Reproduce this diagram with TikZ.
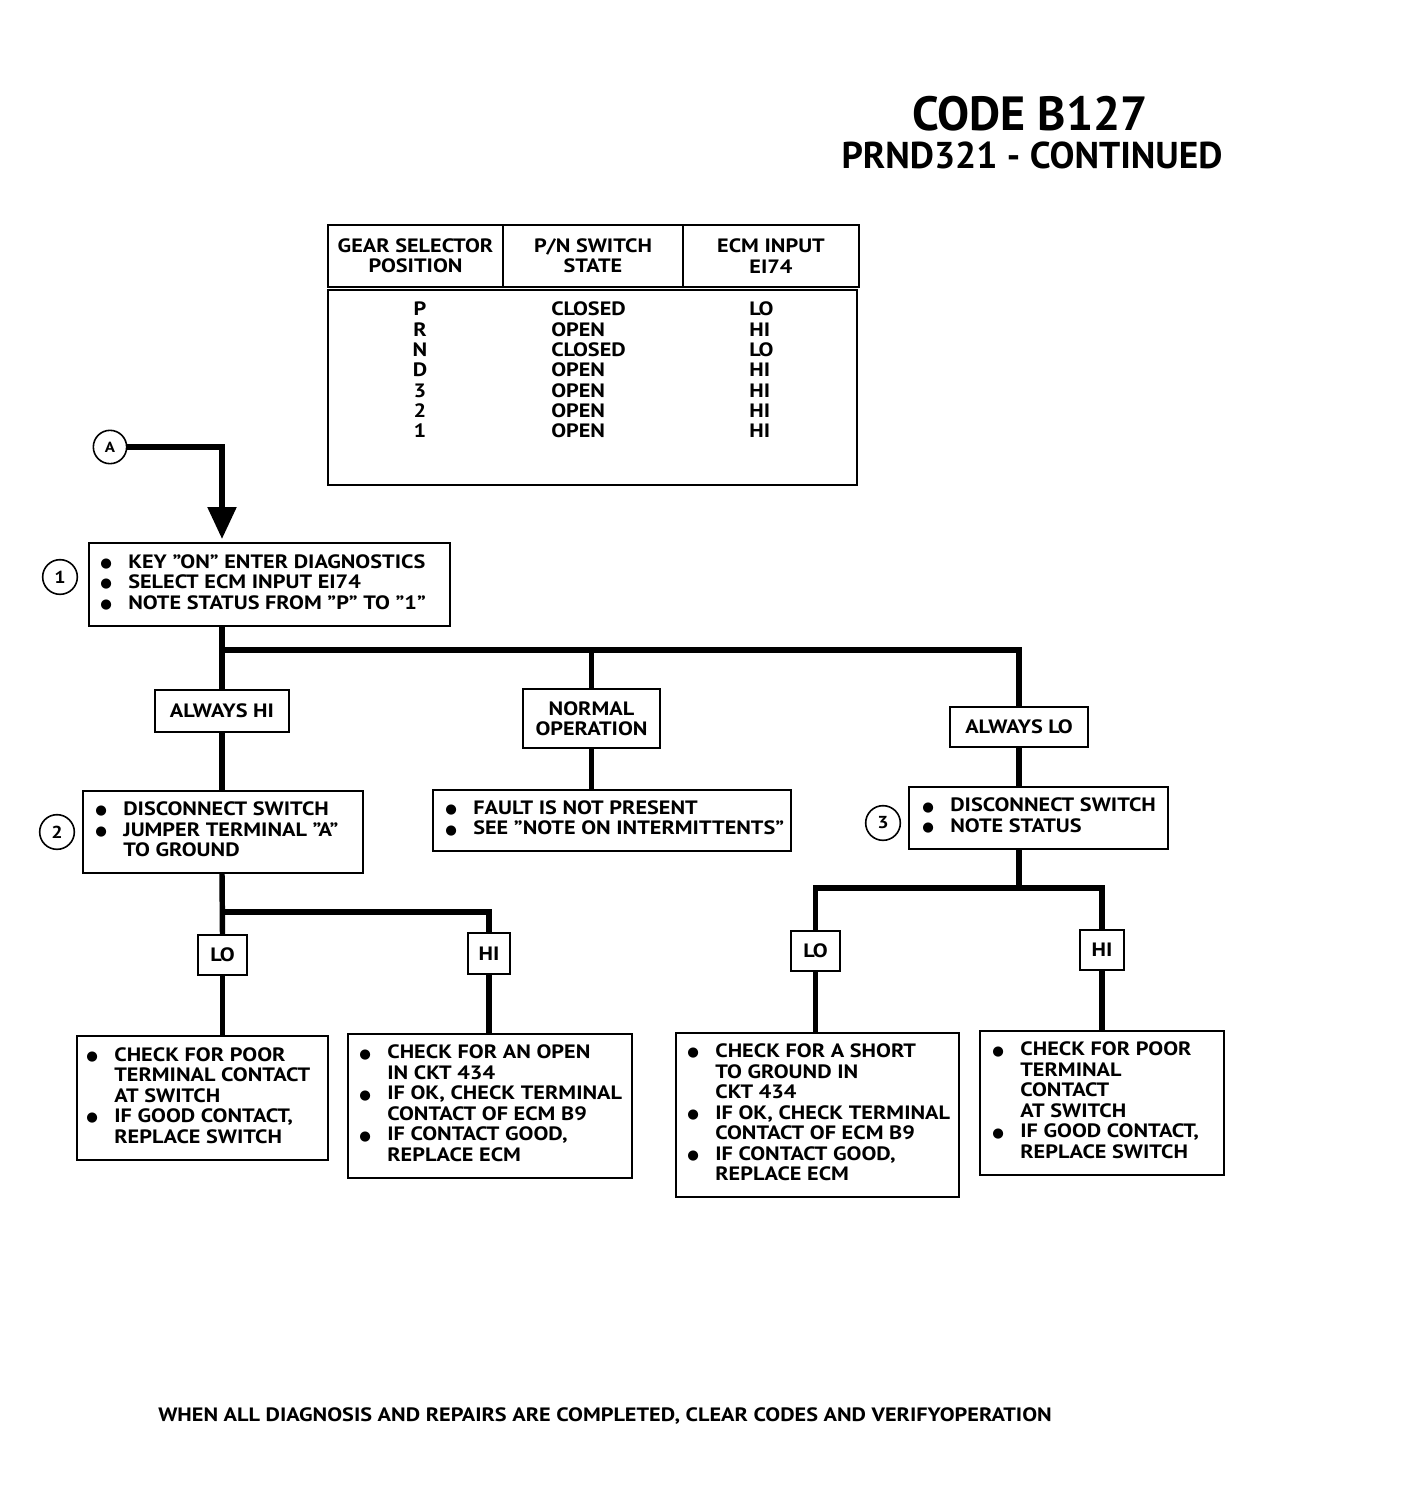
\documentclass[tikz,border=0pt]{standalone}
\usepackage{fontspec}
\setmainfont{PT Sans}[FakeStretch=1.15]
\newfontfamily\tfont{PT Sans}
\newfontfamily\symf{DejaVu Sans}
\usetikzlibrary{arrows.meta,fit,calc}
\newcommand\bul{\makebox[21pt][l]{{\symf\fontsize{10}{10}\selectfont\raisebox{0.5pt}{●}}}}
\newcommand\blist[1]{\begin{tabular}{@{}l@{}l@{}}#1\end{tabular}}
\begin{document}
\begin{tikzpicture}[x=0.75pt,y=-0.75pt,
  bx/.style={draw,line width=1.4pt,inner sep=0pt},
  conn/.style={line width=4.1pt,line join=miter},
  txt/.style={inner sep=0pt,anchor=west,font=\bfseries\fontsize{14.5}{15.4}\selectfont},
  lbl/.style={inner sep=0pt,align=center,font=\bfseries\fontsize{14.5}{15.2}\selectfont},
  circ/.style={draw,circle,line width=1.2pt,minimum size=26pt,inner sep=0pt,font=\bfseries\fontsize{13}{13}\selectfont},
  tcol/.style={inner sep=0pt,font=\bfseries\fontsize{14.5}{15.25}\selectfont}]
\fill[white] (0,0) rectangle (1400,1502);
\useasboundingbox (0,0) rectangle (1400,1502);

% title
\node[inner sep=0pt,font=\tfont\bfseries\fontsize{36}{40}\selectfont] (title) at (1030,114) {CODE B127};
\node[inner sep=0pt,font=\tfont\bfseries\fontsize{28}{32}\selectfont] (sub) at (1032,155) {PRND321 - CONTINUED};

% table
\node[bx,fit={(328,225) (503,287)}] (h1) {};
\node[bx,fit={(503,225) (683,287)}] (h2) {};
\node[bx,fit={(683,225) (859,287)}] (h3) {};
\node[lbl] (h1t) at (h1.center) {GEAR SELECTOR\\POSITION};
\node[lbl] (h2t) at (h2.center) {P/N SWITCH\\STATE};
\node[lbl] (h3t) at (h3.center) {ECM INPUT\\EI74};
\node[bx,fit={(328,290) (857,485)}] (tb) {};
\node[tcol,align=center] (c1) at (420,370) {P\\R\\N\\D\\3\\2\\1};
\node[tcol,align=left,anchor=west] (c2) at (551,370) {CLOSED\\OPEN\\CLOSED\\OPEN\\OPEN\\OPEN\\OPEN};
\node[tcol,align=left,anchor=west] (c3) at (749,370) {LO\\HI\\LO\\HI\\HI\\HI\\HI};

% entry
\node[circ,minimum size=25pt,font=\bfseries\fontsize{11}{11}\selectfont] (cA) at (110,447) {A};
\coordinate (atip) at (222,539);

% step 1
\node[bx,fit={(89,543) (450,626)}] (b1) {};
\node[txt] (b1t) at ($(b1.west)+(12,0)$) {\blist{\bul & KEY "ON" ENTER DIAGNOSTICS\\ \bul & SELECT ECM INPUT EI74\\ \bul & NOTE STATUS FROM "P" TO "1"}};
\node[circ] (n1) at (60,577) {1};

% result labels
\node[bx,fit={(155,690) (289,732)}] (hi) {};
\node[lbl] (hit) at (hi.center) {ALWAYS HI};
\node[bx,fit={(523,689) (660,748)}] (nop) {};
\node[lbl] (nopt) at (nop.center) {NORMAL\\OPERATION};
\node[bx,fit={(950,707) (1088,747)}] (alo) {};
\node[lbl] (alot) at (alo.center) {ALWAYS LO};

% step 2
\node[bx,fit={(83,791) (363,873)}] (b2) {};
\node[txt] (b2t) at ($(b2.west)+(13,0)$) {\blist{\bul & DISCONNECT SWITCH\\ \bul & JUMPER TERMINAL "A"\\ & TO GROUND}};
\node[circ] (n2) at (57,832) {2};

\node[bx,fit={(433,790) (791,851)}] (bn) {};
\node[txt] (bnt) at ($(bn.west)+(13,0)$) {\blist{\bul & FAULT IS NOT PRESENT\\ \bul & SEE "NOTE ON INTERMITTENTS"}};

% step 3
\node[bx,fit={(909,787) (1168,849)}] (b3) {};
\node[txt] (b3t) at ($(b3.west)+(14,0)$) {\blist{\bul & DISCONNECT SWITCH\\ \bul & NOTE STATUS}};
\node[circ] (n3) at (883,823) {3};

% LO/HI labels
\node[bx,fit={(198,935) (247,975)}] (lo1) {};
\node[lbl] (lo1t) at (lo1.center) {LO};
\node[bx,fit={(468,933) (510,974)}] (hi1) {};
\node[lbl] (hi1t) at (hi1.center) {HI};
\node[bx,fit={(791,931) (840,971)}] (lo2) {};
\node[lbl] (lo2t) at (lo2.center) {LO};
\node[bx,fit={(1080,930) (1124,970)}] (hi2) {};
\node[lbl] (hi2t) at (hi2.center) {HI};

% final boxes
\node[bx,fit={(77,1036) (328,1160)}] (ll) {};
\node[txt] (llt) at ($(ll.west)+(10,0)$) {\blist{\bul & CHECK FOR POOR\\ & TERMINAL CONTACT\\ & AT SWITCH\\ \bul & IF GOOD CONTACT,\\ & REPLACE SWITCH}};
\node[bx,fit={(348,1034) (632,1178)}] (lr) {};
\node[txt] (lrt) at ($(lr.west)+(12,0)$) {\blist{\bul & CHECK FOR AN OPEN\\ & IN CKT 434\\ \bul & IF OK, CHECK TERMINAL\\ & CONTACT OF ECM B9\\ \bul & IF CONTACT GOOD,\\ & REPLACE ECM}};
\node[bx,fit={(676,1033) (959,1197)}] (rl) {};
\node[txt] (rlt) at ($(rl.west)+(12,0)$) {\blist{\bul & CHECK FOR A SHORT\\ & TO GROUND IN\\ & CKT 434\\ \bul & IF OK, CHECK TERMINAL\\ & CONTACT OF ECM B9\\ \bul & IF CONTACT GOOD,\\ & REPLACE ECM}};
\node[bx,fit={(980,1031) (1224,1175)}] (rr) {};
\node[txt] (rrt) at ($(rr.west)+(13,0)$) {\blist{\bul & CHECK FOR POOR\\ & TERMINAL\\ & CONTACT\\ & AT SWITCH\\ \bul & IF GOOD CONTACT,\\ & REPLACE SWITCH}};

% footer
\node[inner sep=0pt,anchor=west,font=\bfseries\fontsize{14.5}{16}\selectfont] (foot) at (158,1416) {WHEN ALL DIAGNOSIS AND REPAIRS ARE COMPLETED, CLEAR CODES AND VERIFYOPERATION};

% connectors
\draw[conn,-{Triangle[width=21pt,length=24pt]}] (cA.east) -| (atip);
\coordinate (bus1) at (222,650);
\draw[conn] (hi.north |- b1.south) -- (hi.north);
\draw[conn] (bus1) -| (alo.north);
\draw[conn] (nop.north |- bus1) -- (nop.north);
\draw[conn] (hi.south) -- (hi.south |- b2.north);
\draw[conn] (nop.south) -- (nop.south |- bn.north);
\draw[conn] (alo.south) -- (alo.south |- b3.north);
\coordinate (bus2) at (222,912);
\draw[conn] (hi.south |- b2.south) -- (lo1.north);
\draw[conn] (bus2) -| (hi1.north);
\draw[conn] (lo1.south) -- (lo1.south |- ll.north);
\draw[conn] (hi1.south) -- (hi1.south |- lr.north);
\coordinate (bus3) at (1019,888);
\draw[conn] (alo.south |- b3.south) -- (bus3);
\draw[conn] (lo2.north) |- (hi2.north |- bus3) -- (hi2.north);
\draw[conn] (lo2.south) -- (lo2.south |- rl.north);
\draw[conn] (hi2.south) -- (hi2.south |- rr.north);
\end{tikzpicture}
\end{document}
